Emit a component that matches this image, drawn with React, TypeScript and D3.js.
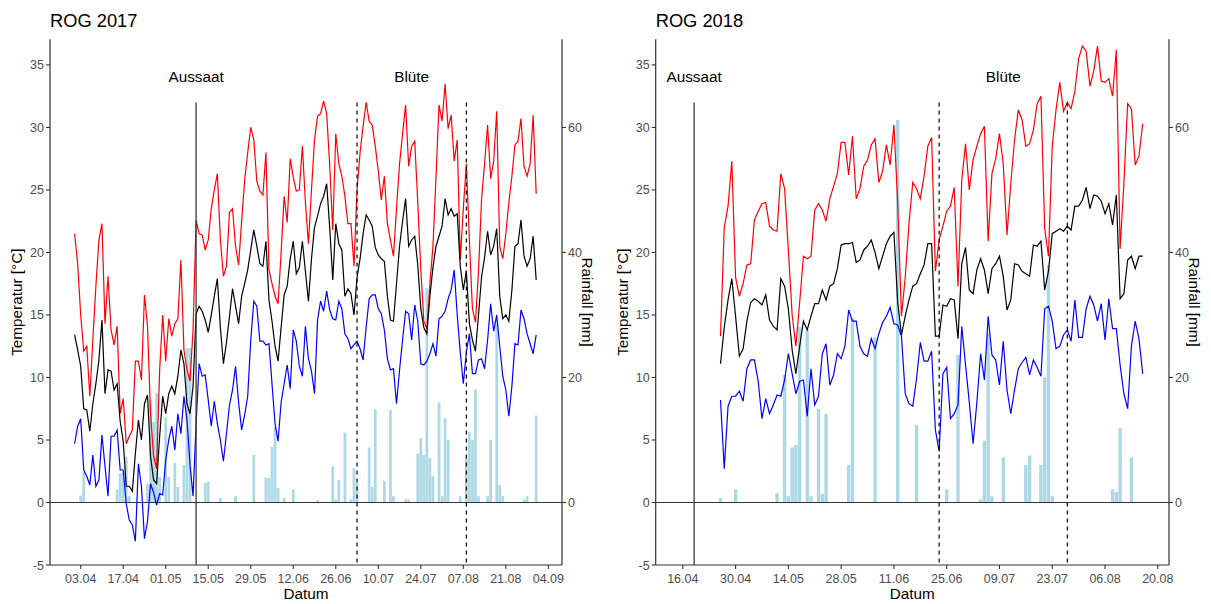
import React from "react";
import * as d3 from "d3";

const DAY = 86400000;
const FONT = "'Liberation Sans', Arial, Helvetica, sans-serif";
const TICK_TEXT = "#4D4D4D";
const AXIS_COLOR = "#333333";

const tempTicks = [-5, 0, 5, 10, 15, 20, 25, 30, 35];
const rainTicks = [0, 20, 40, 60];

// ---------- 2017 ----------
const start2017 = "2017-04-01";
const tmax2017 = [
  21.5, 19.1, 15, 12.1, 12.5, 8.5, 13, 17.3, 21, 22.3,
  14.3, 18.1, 13.8, 12.6, 14.1, 7.1, 8.3, 4.7, 5.3, 5.8,
  11.3, 11.3, 9.8, 16.6, 14.1, 7.1, 3.7, 2.7, 10.6, 15,
  11.3, 14.7, 13.3, 14.3, 14.7, 19.4, 12.2, 10.6, 9.7, 13.8,
  22.6, 21.5, 21.4, 20.2, 21, 23.5, 25, 26.3, 21, 18.1,
  18.9, 23.2, 23.5, 20.5, 19, 22.5, 25.8, 28, 30, 29,
  25.7, 24.9, 24.6, 28, 18.6, 17.5, 16.5, 15.9, 20, 24.5,
  22.4, 27.5, 26, 24.9, 25, 28.5, 24, 20.7, 25, 29,
  30.9, 31.1, 32.1, 31.1, 27, 21.8, 29.5, 27.1, 26.1, 24.5,
  22.3, 22.3, 18.9, 25, 28, 30.1, 32, 30.5, 30.2, 28.5,
  26.5, 24.2, 26.1, 22.3, 21, 19.7, 23.5, 27.1, 29.5, 31.8,
  26.9, 28.5, 28.9, 24, 18.6, 14.5, 13.9, 17.5, 20.5, 26,
  31.8, 30.5, 33.5, 29.9, 31, 27.3, 29, 19.4, 23.5, 27.1,
  21, 15.5, 14.4, 18.5, 24.2, 27.1, 30.2, 25.9, 27.3, 31.3,
  20.5, 19.5, 21.5, 24, 26.1, 28.6, 28.9, 30.7, 26.9, 26.1,
  27.1, 31, 24.7,
];
const tmean2017 = [
  13.4, 12.2, 10.9, 7.5, 7.4, 5.7, 7.9, 9.5, 11.4, 14.6,
  8.7, 10.6, 10.5, 9, 9.5, 6.5, 4.9, 1.3, 1.3, 0.9,
  3.9, 6.6, 5, 7.9, 8.6, 3.7, 1.8, 1.5, 5.3, 8.5,
  7.1, 8.7, 9.3, 8.7, 10.1, 12.2, 11.1, 7.9, 7.1, 9.3,
  15.1, 15.7, 15.3, 14.6, 13.6, 15, 16.5, 17.9, 14, 11.1,
  12.8, 14.9, 17.1, 15.7, 14.3, 16.5, 17.5, 18.6, 20.2, 21.8,
  20.5, 19.1, 18.9, 20.9, 16.2, 14.5, 12.5, 11.3, 14, 16.6,
  17.3, 19.5, 20.9, 18.3, 18.8, 20.9, 18.5, 16.1, 19.5, 22,
  22.9, 23.9, 24.5, 25.5, 22, 17.8, 22.3, 20.7, 20.2, 16.5,
  17.1, 16.7, 15, 18, 19.5, 21.5, 23, 22.6, 22.1, 20.4,
  19.8, 19.5, 19.3, 16.5, 14.6, 14.5, 17.5, 20.5, 22.5, 24.3,
  20.5, 21, 21.3, 19, 15.5, 14, 13.5, 16.5, 18.8, 20.5,
  21.3, 22.1, 24.3, 23, 23.5, 22.9, 23.1, 18.9, 17, 18.5,
  14.3, 13, 12.1, 15, 18, 19.6, 21.7, 19.8, 20.5, 21.9,
  16.5, 14.7, 15, 14.5, 17, 20.5, 20.7, 22.6, 19.7, 18.9,
  19.5, 21.3, 17.8,
];
const tmin2017 = [
  4.7, 6.1, 6.7, 2.6, 2.1, 1.4, 3.8, 1.3, 1.8, 5.4,
  2.9, 0.5, 5.3, 5.3, 5.8, 2.6, 2.6, -0.1, -1.4, -1.8,
  -3.1, 3.1, 1.3, -2.9, -1.5, 1.5, 0.8, -0.2, 0.7, 0.6,
  3.4, 5, 6.1, 4.2, 7.1, 5.5, 8.5, 6.6, 3, 0.5,
  6.3, 11.1, 10.1, 10.2, 8.2, 6.1, 8.1, 6.3, 5, 3.3,
  5.5, 7.8, 9, 10.9, 8, 5.8, 7, 8.5, 13, 16.1,
  15.7, 12.9, 12.9, 12.6, 12.7, 9.5, 6.3, 4.9, 8, 9.5,
  11, 9.1, 13.8, 12.9, 10.9, 10.1, 14.1, 11.5, 10.5, 8.7,
  14.6, 16.1, 15.3, 16.9, 15.4, 14.7, 14.6, 16.1, 15.5, 13.5,
  13.1, 12.3, 12.6, 12.9, 12.3, 11.4, 14, 16.3, 16.6, 16.6,
  15.5, 15.1, 13.8, 11.5, 10.6, 10.7, 7.9, 10.6, 13, 15.3,
  15.1, 13, 15.8, 14.5, 11.1, 11, 11.3, 11.9, 12.7, 11.7,
  14.7, 14.9, 15.3, 16.3, 17, 18.6, 15, 12, 9.5, 12,
  13.5, 10.3, 10.3, 11.4, 11.5, 10.7, 13, 15.9, 13.7, 15,
  12.5, 10.1, 9, 6.9, 9.3, 12.7, 12.6, 15.4, 14.7, 13.5,
  12.7, 11.9, 13.4,
];
const rain2017 = [
  0, 0, 1.1, 4.9, 0, 0, 0, 0, 0, 0,
  0, 0, 0, 0, 2.1, 4.7, 4.9, 7.3, 1, 0,
  0, 0, 0, 0, 3, 16.4, 12.9, 17.5, 4.1, 0,
  13.7, 4.1, 0, 6.3, 2.5, 0, 6, 24.7, 24.7, 0,
  0, 0, 0, 3.1, 3.3, 0, 0, 0, 0.7, 0,
  0, 0, 0, 1, 0, 0, 0, 0, 0, 7.6,
  0, 0, 0, 4, 3.9, 8.9, 12.1, 2.3, 0, 0.7,
  0, 0, 2.1, 0, 0, 0, 0, 0, 0, 0,
  0.4, 0, 0, 0, 0, 5.8, 0.5, 3.6, 0, 11.2,
  0, 0.5, 5.5, 3.1, 0, 0, 0, 8.8, 2.5, 14.9,
  0, 0, 3.5, 0, 14.8, 1, 0, 0, 0, 0.5,
  0.5, 0, 0, 7.8, 10.3, 7.6, 34.3, 7.1, 4.2, 0,
  16, 1, 13.5, 10, 0, 0, 0, 1, 0, 7.2,
  11.3, 10, 18.1, 1, 0, 0, 1, 10, 0, 29.2,
  2.8, 1, 0, 0, 0, 0, 0, 0, 0.5, 1,
  0, 0, 13.9,
];
const dateTicks2017 = [
  "2017-04-03", "2017-04-17", "2017-05-01", "2017-05-15", "2017-05-29", "2017-06-12",
  "2017-06-26", "2017-07-10", "2017-07-24", "2017-08-07", "2017-08-21", "2017-09-04",
];
const sowing2017 = "2017-05-11";
const bloom2017 = ["2017-07-03", "2017-08-08"];

// ---------- 2018 ----------
const start2018 = "2018-04-26";
const tmax2018 = [
  13.3, 22, 23.7, 27.3, 18, 16.5, 17.5, 19, 19.1, 22.6,
  23.3, 23.9, 24, 22.1, 21.8, 21.7, 26.3, 25.1, 20.2, 15,
  12.5, 16, 19.7, 19.5, 19.7, 23.4, 23.9, 23.4, 22.5, 24.3,
  25.3, 26.3, 28.8, 28.8, 26.2, 29.3, 24.3, 25.1, 26.9, 27.4,
  28.6, 29.1, 25.6, 26.5, 28.6, 27, 30.2, 24, 14.9, 18,
  22.3, 25.6, 25.1, 24.3, 26.1, 28.5, 29.2, 18.5, 21, 22.1,
  23.3, 23.7, 25.2, 17.3, 25.8, 28.7, 25, 27.4, 28.5, 29.5,
  30.1, 20.9, 26.3, 27.5, 29.5, 27.1, 21.4, 25.5, 29, 31.4,
  30.6, 28.5, 28.7, 29.8, 31.9, 32.5, 21.9, 19.7, 28.5, 31.4,
  33.6, 31.3, 32, 31.5, 32.9, 35.5, 36.5, 36.1, 33.3, 34.5,
  36.5, 33.7, 33.6, 33.9, 32.5, 36.2, 20.3, 25.5, 31.9, 31.5,
  27, 27.7, 30.3,
];
const tmean2018 = [
  11.1, 14, 16.2, 17.9, 14.9, 11.7, 12.3, 14.5, 16, 16.3,
  16.1, 15.8, 16.6, 14.6, 14.1, 13.8, 17.9, 17.3, 15.5, 12.2,
  10.3, 12.5, 14.5, 13.8, 14.9, 15.9, 15.9, 17, 16.2, 17.3,
  17.5, 18.7, 20.6, 20.7, 20.7, 20.8, 19.2, 19.4, 20.2, 20.5,
  21, 20, 18.7, 19.7, 20.7, 21.3, 21.6, 16, 13.4, 14.9,
  16.2, 17.3, 17.5, 18.3, 19, 20.7, 20.7, 13.3, 13.3, 15.8,
  15.7, 16.3, 16.2, 13.1, 19.1, 20.4, 17, 16.7, 18.6, 19.5,
  18.6, 16.7, 18.7, 19.1, 19.7, 18.1, 15.4, 16.2, 19.1, 19,
  18.5, 18.3, 18.1, 20.6, 20.5, 20.9, 17, 18.5, 21.5, 21.7,
  21.9, 21.7, 22.1, 21.8, 23.7, 23.7, 24.2, 25.2, 23.5, 24.6,
  24.5, 24.1, 23.1, 23.9, 22.2, 24.6, 16.3, 16.7, 19.4, 19.7,
  18.7, 19.7, 19.7,
];
const tmin2018 = [
  8.2, 2.7, 7.7, 8.5, 8.5, 8.9, 8.1, 10.7, 11.4, 11.4,
  9.7, 6.7, 8.3, 7.1, 7.8, 8.6, 8.5, 9.8, 11.9, 10.3,
  8.7, 9.7, 9.8, 6.9, 10.7, 7.8, 8.5, 11.9, 12.7, 9.4,
  10.2, 11.9, 11.5, 12.5, 15.4, 14.5, 14.5, 12.5, 11.9, 11.7,
  13.1, 12.3, 13.5, 14.4, 14.9, 15.6, 14.3, 14.2, 13.3, 8.7,
  7.9, 7.7, 9.9, 12.8, 11.3, 11.3, 12.1, 5.8, 4.1, 10.3,
  10.8, 6.7, 7.1, 7.8, 14.1, 11, 8, 4.7, 8, 11.9,
  9.8, 14.9, 11.8, 11.4, 9.4, 12.9, 9, 7.1, 9, 10.7,
  11.2, 11.6, 10.2, 11.4, 10.8, 10.1, 15.5, 15.7, 14.5, 12.3,
  12.5, 13.4, 13.8, 12.9, 16.2, 13.2, 13.2, 15.5, 16.5, 15.8,
  14.5, 15.9, 13, 16.3, 13.9, 13.9, 11, 8.7, 7.5, 12.5,
  14.5, 13.1, 10.3,
];
const rain2018 = [
  0.7, 0, 0, 0, 2.1, 0, 0, 0, 0, 0,
  0, 0, 0, 0, 0, 1.5, 0, 20.4, 1, 8.8,
  9.2, 28.1, 0, 27.5, 1, 0, 15, 1.4, 14.2, 0,
  0, 0, 0, 0, 6, 29.5, 0, 0, 0, 0,
  0, 26.4, 0, 0, 0, 0, 0, 61.2, 0, 0,
  0, 0, 12.4, 0, 0, 0, 0, 0, 0, 0,
  2.1, 0, 0, 23.6, 0, 0, 0, 0, 0, 0.5,
  9.9, 27.1, 1, 0, 0, 7.2, 0, 0, 0, 0,
  0, 6, 7.5, 0, 0, 6, 20, 38, 1, 0,
  0, 0, 0, 0, 0, 0, 0, 0, 0, 0,
  0, 0, 0, 0, 2.1, 1.7, 11.9, 0, 0, 7.2,
  0, 0, 0,
];
const dateTicks2018 = [
  "2018-04-16", "2018-04-30", "2018-05-14", "2018-05-28", "2018-06-11",
  "2018-06-25", "2018-07-09", "2018-07-23", "2018-08-06", "2018-08-20",
];
const sowing2018 = "2018-04-19";
const bloom2018 = ["2018-06-23", "2018-07-27"];

const parseDay = (s: string) => new Date(s + "T00:00:00Z");
const fmt = d3.utcFormat("%d.%m");

type PanelProps = {
  title: string;
  start: string;
  tmax: number[];
  tmean: number[];
  tmin: number[];
  rain: number[];
  ticks: string[];
  sowing: string;
  bloom: string[];
  left: number;
  right: number;
  domainDays: [number, number];
};

const TOP = 39.3;
const BOTTOM = 565;

function Panel(p: PanelProps) {
  const t0 = parseDay(p.start).getTime();
  const dateAt = (i: number) => new Date(t0 + i * DAY);
  const x = d3
    .scaleUtc()
    .domain([dateAt(p.domainDays[0]), dateAt(p.domainDays[1])])
    .range([p.left, p.right]);
  const y = d3.scaleLinear().domain([-5, 37.05]).range([BOTTOM, TOP]);
  const yR = d3.scaleLinear().domain([-10, 74.1]).range([BOTTOM, TOP]);

  const line = d3
    .line<number>()
    .x((_, i) => x(dateAt(i)))
    .y((v) => y(v));

  const barW = x(dateAt(0.9)) - x(dateAt(0));
  const cx = (p.left + p.right) / 2;
  const cy = (TOP + BOTTOM) / 2;
  const sowX = x(parseDay(p.sowing));
  const bloomX = p.bloom.map((b) => x(parseDay(b)));

  return (
    <g fontFamily={FONT}>
      <text x={p.left} y={27.3} fontSize={18.3} fill="#000">
        {p.title}
      </text>
      {/* rainfall bars */}
      <g fill="#ADD8E6">
        {p.rain.map((r, i) =>
          r > 0 ? (
            <rect
              key={i}
              x={x(dateAt(i)) - barW / 2}
              y={yR(r)}
              width={barW}
              height={yR(0) - yR(r)}
            />
          ) : null
        )}
      </g>
      {/* zero line */}
      <line x1={p.left} x2={p.right} y1={y(0)} y2={y(0)} stroke={AXIS_COLOR} strokeWidth={1.2} />
      {/* temperature lines */}
      <path d={line(p.tmax) || ""} fill="none" stroke="#FF0000" strokeWidth={1.2} />
      <path d={line(p.tmean) || ""} fill="none" stroke="#000000" strokeWidth={1.2} />
      <path d={line(p.tmin) || ""} fill="none" stroke="#0000FF" strokeWidth={1.2} />
      {/* events */}
      <line x1={sowX} x2={sowX} y1={y(32)} y2={BOTTOM} stroke="#3A3A3A" strokeWidth={1.3} />
      {bloomX.map((bx, i) => (
        <line
          key={i}
          x1={bx}
          x2={bx}
          y1={y(32)}
          y2={BOTTOM}
          stroke="#000"
          strokeWidth={1.2}
          strokeDasharray="4,4"
        />
      ))}
      <text x={sowX} y={82.3} fontSize={15.3} textAnchor="middle" fill="#000">
        Aussaat
      </text>
      <text
        x={(bloomX[0] + bloomX[1]) / 2}
        y={82.3}
        fontSize={15.3}
        textAnchor="middle"
        fill="#000"
      >
        Blüte
      </text>
      {/* axes */}
      <line x1={p.left} x2={p.left} y1={TOP} y2={BOTTOM} stroke={AXIS_COLOR} strokeWidth={1.2} />
      <line x1={p.right} x2={p.right} y1={TOP} y2={BOTTOM} stroke={AXIS_COLOR} strokeWidth={1.2} />
      <line x1={p.left} x2={p.right} y1={BOTTOM} y2={BOTTOM} stroke={AXIS_COLOR} strokeWidth={1.2} />
      {tempTicks.map((t) => (
        <g key={"t" + t}>
          <line x1={p.left - 4} x2={p.left} y1={y(t)} y2={y(t)} stroke={AXIS_COLOR} strokeWidth={1.1} />
          <text x={p.left - 6} y={y(t) + 4.5} fontSize={12.5} textAnchor="end" fill={TICK_TEXT}>
            {t}
          </text>
        </g>
      ))}
      {rainTicks.map((r) => (
        <g key={"r" + r}>
          <line x1={p.right} x2={p.right + 4} y1={yR(r)} y2={yR(r)} stroke={AXIS_COLOR} strokeWidth={1.1} />
          <text x={p.right + 6} y={yR(r) + 4.5} fontSize={12.5} textAnchor="start" fill={TICK_TEXT}>
            {r}
          </text>
        </g>
      ))}
      {p.ticks.map((s) => {
        const tx = x(parseDay(s));
        return (
          <g key={s}>
            <line x1={tx} x2={tx} y1={BOTTOM} y2={BOTTOM + 4} stroke={AXIS_COLOR} strokeWidth={1.1} />
            <text x={tx} y={583} fontSize={12.5} textAnchor="middle" fill={TICK_TEXT}>
              {fmt(parseDay(s))}
            </text>
          </g>
        );
      })}
      <text x={cx} y={599} fontSize={15.3} textAnchor="middle" fill="#000">
        Datum
      </text>
      <text
        x={p.left - 33}
        y={cy}
        fontSize={15.3}
        textAnchor="middle"
        dominantBaseline="central"
        transform={`rotate(-90, ${p.left - 33}, ${cy})`}
        fill="#000"
      >
        Temperatur [°C]
      </text>
      <text
        x={p.right + 25}
        y={cy}
        fontSize={15.3}
        textAnchor="middle"
        dominantBaseline="central"
        transform={`rotate(90, ${p.right + 25}, ${cy})`}
        fill="#000"
      >
        Rainfall [mm]
      </text>
    </g>
  );
}

export default function App() {
  return (
    <svg
      width={1211}
      height={604}
      style={{ position: "absolute", left: 0, top: 0, background: "#fff" }}
    >
      <rect width={1211} height={604} fill="#fff" />
      <Panel
        title="ROG 2017"
        start={start2017}
        tmax={tmax2017}
        tmean={tmean2017}
        tmin={tmin2017}
        rain={rain2017}
        ticks={dateTicks2017}
        sowing={sowing2017}
        bloom={bloom2017}
        left={50}
        right={562}
        domainDays={[-8.11, 160.5]}
      />
      <Panel
        title="ROG 2018"
        start={start2018}
        tmax={tmax2018}
        tmean={tmean2018}
        tmin={tmin2018}
        rain={rain2018}
        ticks={dateTicks2018}
        sowing={sowing2018}
        bloom={bloom2018}
        left={655.7}
        right={1169}
        domainDays={[-17.19, 118.97]}
      />
    </svg>
  );
}
